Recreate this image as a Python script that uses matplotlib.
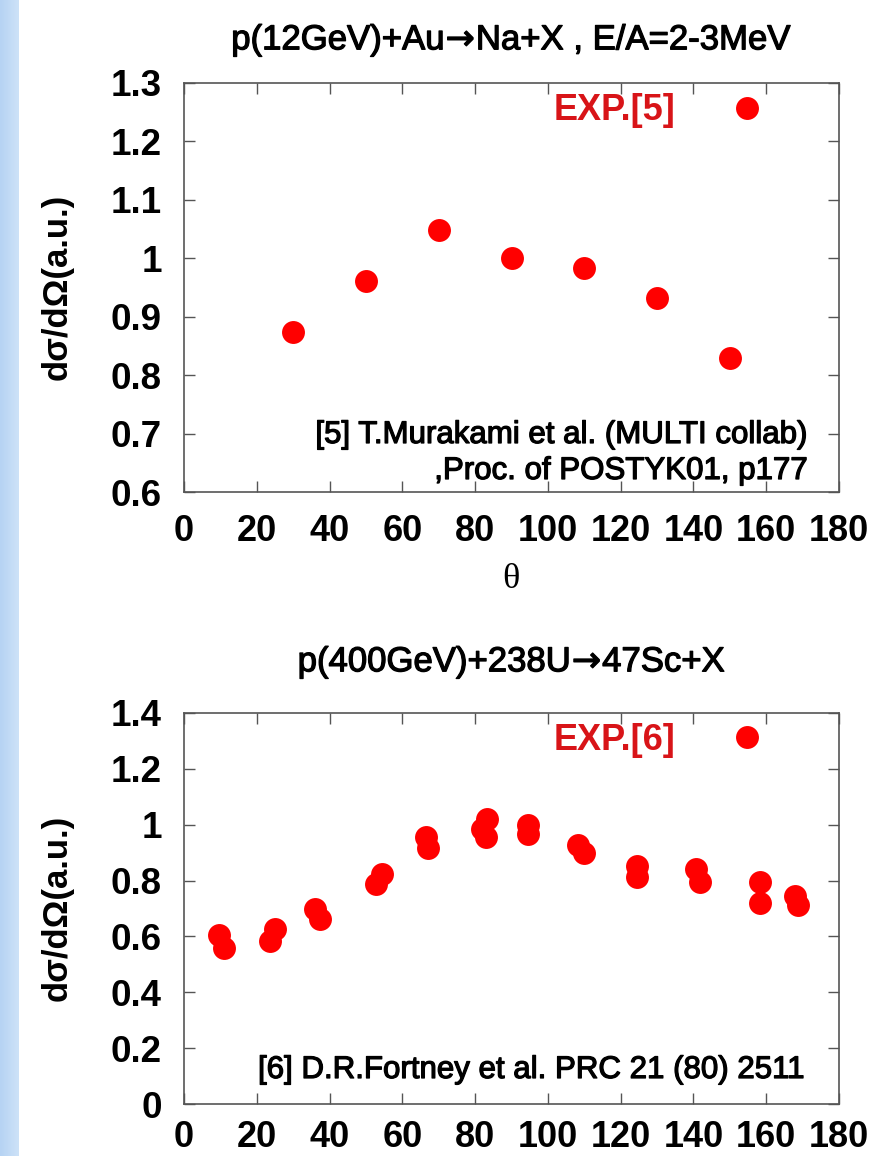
import numpy as np
import matplotlib
matplotlib.use("Agg")
import matplotlib.pyplot as plt
import matplotlib.patheffects as pe

# --- data ---
theta_na = [30, 50, 70, 90, 110, 130, 150]
dsig_na = [0.873, 0.961, 1.048, 1.000, 0.984, 0.932, 0.830]

theta_sc = [9.5, 10.9, 23.7, 25.0, 36.1, 37.4, 52.9, 54.3, 66.4, 67.1,
            81.9, 83.4, 83.0, 94.6, 94.6, 108.2, 110.0, 124.5, 124.5,
            140.8, 141.9, 158.3, 158.3, 167.9, 168.7]
dsig_sc = [0.605, 0.560, 0.585, 0.626, 0.700, 0.664, 0.789, 0.825, 0.957, 0.916,
           0.986, 1.021, 0.957, 0.999, 0.965, 0.929, 0.897, 0.853, 0.812,
           0.840, 0.795, 0.795, 0.719, 0.745, 0.713]

xticks = [0, 20, 40, 60, 80, 100, 120, 140, 160, 180]
yticks_na = [0.6, 0.7, 0.8, 0.9, 1.0, 1.1, 1.2, 1.3]
ylabels_na = ["0.6", "0.7", "0.8", "0.9", "1", "1.1", "1.2", "1.3"]
yticks_sc = [0, 0.2, 0.4, 0.6, 0.8, 1.0, 1.2, 1.4]
ylabels_sc = ["0", "0.2", "0.4", "0.6", "0.8", "1", "1.2", "1.4"]

plt.rcParams["mathtext.fontset"] = "dejavusans"
SANS = ["Liberation Sans", "DejaVu Sans"]
RED = "#ff0000"
TXT_RED = "#d81418"
W, H = 884, 1156
thick = [pe.withStroke(linewidth=0.9, foreground="black")]


def fx(px):
    return px / W


def fy(py):
    return 1 - py / H


def style_axes(ax, ylim, yticks, ylabels, xpad):
    ax.set_xlim(0, 180)
    ax.set_ylim(*ylim)
    ax.set_xticks(xticks)
    ax.set_xticklabels([str(t) for t in xticks])
    ax.set_yticks(yticks)
    ax.set_yticklabels(ylabels)
    ax.tick_params(direction="in", length=8, width=1, color="#555555",
                   top=True, right=True, pad=16, labelsize=26.5)
    ax.tick_params(axis="x", pad=xpad, labelsize=26)
    for lab in ax.get_xticklabels() + ax.get_yticklabels():
        lab.set_fontfamily(SANS)
        lab.set_fontweight("bold")
    for lab in ax.get_xticklabels():
        lab.set_va("baseline")
    for sp in ax.spines.values():
        sp.set_color("#555555")
        sp.set_linewidth(1.2)


def add_legend(ax, line, label, y_px, top_px, bot_px):
    fs_px = 26 * 100 / 72
    ax.legend([line], [label], loc="center right", markerfirst=False,
              frameon=False, borderaxespad=0, borderpad=0,
              handlelength=60 / fs_px, handletextpad=(72 - 30) / fs_px,
              bbox_to_anchor=((777 - 184) / 655, (bot_px - y_px) / (bot_px - top_px)),
              prop={"family": SANS, "weight": "bold", "size": 26},
              labelcolor=TXT_RED)


fig = plt.figure(figsize=(8.84, 11.56), dpi=100)

# blue strip on the left edge
strip = fig.add_axes([0, 0, fx(19), 1])
strip.imshow(np.linspace(0, 1, 20).reshape(1, -1), cmap=matplotlib.colors.LinearSegmentedColormap.from_list(
    "s", ["#b6d3f3", "#cde2f8"]), aspect="auto", extent=[0, 1, 0, 1])
strip.axis("off")

# ---- top panel ----
ax1 = fig.add_axes([fx(184), fy(492), fx(839 - 184), (492 - 83) / H])
l1, = ax1.plot(theta_na, dsig_na, "o", color=RED, markersize=16.5, markeredgewidth=0)
style_axes(ax1, (0.6, 1.3), yticks_na, ylabels_na, xpad=35)
add_legend(ax1, l1, "EXP.[5]", 111, 83, 492)
ax1.text((808 - 184) / 655, (492 - 443) / 409, "[5] T.Murakami et al. (MULTI collab)",
         ha="right", va="baseline", transform=ax1.transAxes,
         family=SANS, fontsize=22.5, path_effects=thick)
ax1.text((808 - 184) / 655, (492 - 479) / 409, ",Proc. of POSTYK01, p177",
         ha="right", va="baseline", transform=ax1.transAxes,
         family=SANS, fontsize=22.5, path_effects=thick)

fig.text(fx(512), fy(40), r"p(12GeV)+Au$\!\rightarrow\!$Na+X , E/A=2-3MeV", ha="center", va="center",
         family=SANS, fontsize=25, path_effects=thick)
fig.text(fx(57), fy(287), "d\u03c3/d\u03a9(a.u.)", rotation=90, ha="center", va="center",
         family=SANS, fontsize=25, fontweight="bold")
fig.text(fx(511), fy(580), "\u03b8", ha="center", va="center",
         family=["Liberation Serif", "DejaVu Serif"], fontsize=26)

# ---- bottom panel ----
ax2 = fig.add_axes([fx(184), fy(1104), fx(839 - 184), (1104 - 713) / H])
l2, = ax2.plot(theta_sc, dsig_sc, "o", color=RED, markersize=16.5, markeredgewidth=0)
style_axes(ax2, (0, 1.4), yticks_sc, ylabels_sc, xpad=31)
add_legend(ax2, l2, "EXP.[6]", 740.5, 713, 1104)
ax2.text((805 - 184) / 655, (1104 - 1070) / 391, "[6] D.R.Fortney et al. PRC 21 (80) 2511",
         ha="right", va="center", transform=ax2.transAxes,
         family=SANS, fontsize=22.5, path_effects=thick)

fig.text(fx(512), fy(662), r"p(400GeV)+238U$\!\rightarrow\!$47Sc+X", ha="center", va="center",
         family=SANS, fontsize=25, path_effects=thick)
fig.text(fx(57), fy(908), "d\u03c3/d\u03a9(a.u.)", rotation=90, ha="center", va="center",
         family=SANS, fontsize=25, fontweight="bold")

fig.savefig("out.png", dpi=100)
